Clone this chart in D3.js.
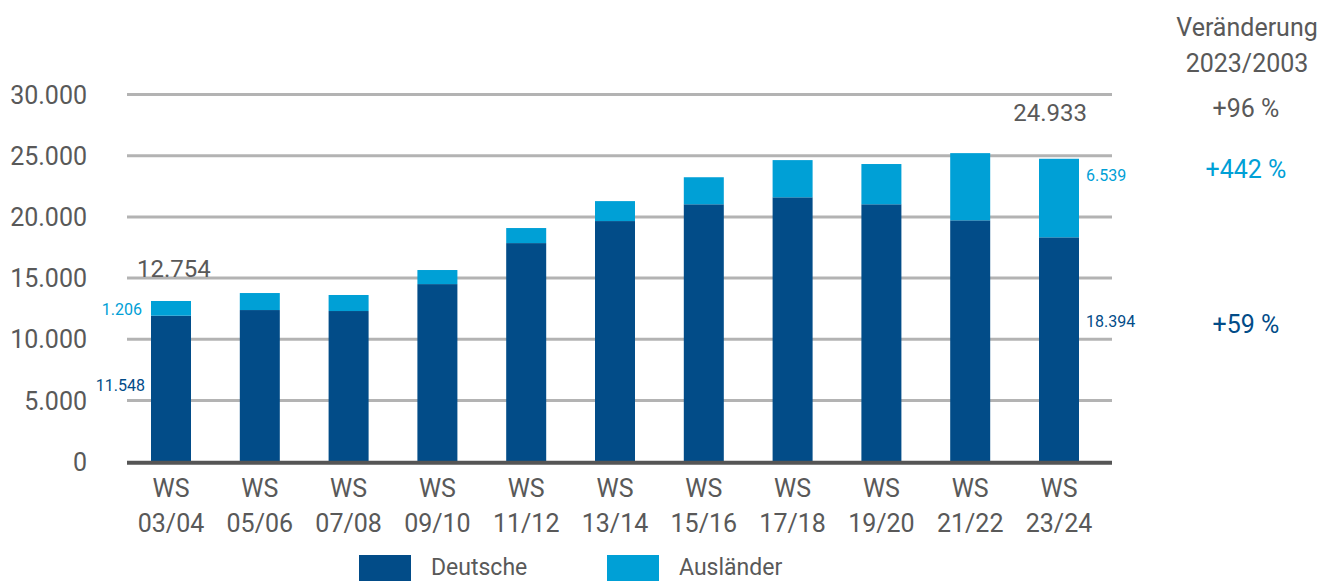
<!DOCTYPE html>
<html>
<head>
<meta charset="utf-8">
<script src="https://cdn.jsdelivr.net/npm/d3@7"></script>
<style>
  body { margin: 0; background: #fff; }
  svg { display: block; font-family: Roboto, "Open Sans", sans-serif; }
</style>
</head>
<body>
<div id="chart"></div>
<script>
// semesters
const semesters = ['03/04', '05/06', '07/08', '09/10', '11/12', '13/14', '15/16', '17/18', '19/20', '21/22', '23/24'];
// students
const deutsche   = [11930, 12390, 12310, 14510, 17860, 19660, 21030, 21600, 21030, 19720, 18330];
const auslaender = [ 1200,  1390,  1310,  1150,  1230,  1630,  2210,  3040,  3290,  5490,  6420];
const yTicks = [0, 5000, 10000, 15000, 20000, 25000, 30000];
const changes = [
    {text: '+96 %', key: 'total'},
    {text: '+442 %', key: 'ausl'},
    {text: '+59 %', key: 'deu'}
];

const colors = { deu: '#024c88', ausl: '#00a0d6', text: '#595959', grid: '#b3b3b3', axis: '#555555' };
const width = 1320, height = 581;

const svg = d3.select('#chart').append('svg')
    .attr('width', width)
    .attr('height', height);

const x = d3.scalePoint().domain(semesters).range([171, 1059]);
const y = d3.scaleLinear().domain([0, 30000]).range([461.7, 94.5]);
const barW = 40;

const fmt = d3.formatLocale({decimal: ',', thousands: '.', grouping: [3], currency: ['', '€']}).format(',');

// gridlines
svg.append('g')
    .selectAll('line')
    .data(yTicks.filter(d => d > 0))
    .join('line')
    .attr('x1', 127).attr('x2', 1112)
    .attr('y1', d => y(d)).attr('y2', d => y(d))
    .attr('stroke', colors.grid)
    .attr('stroke-width', 3);

// y tick labels
svg.append('g')
    .selectAll('text')
    .data(yTicks)
    .join('text')
    .attr('x', 87)
    .attr('y', d => y(d) + 9)
    .attr('text-anchor', 'end')
    .attr('font-size', 25)
    .attr('fill', colors.text)
    .text(d => fmt(d));

// stacked bars
const rows = semesters.map((s, i) => ({s, deu: deutsche[i], ausl: auslaender[i]}));
const bars = svg.append('g').selectAll('g').data(rows).join('g');
bars.append('rect')
    .attr('x', d => x(d.s) - barW / 2)
    .attr('width', barW)
    .attr('y', d => y(d.deu))
    .attr('height', d => y(0) - y(d.deu))
    .attr('fill', colors.deu);
bars.append('rect')
    .attr('x', d => x(d.s) - barW / 2)
    .attr('width', barW)
    .attr('y', d => y(d.deu + d.ausl))
    .attr('height', d => y(d.deu) - y(d.deu + d.ausl))
    .attr('fill', colors.ausl);

// baseline
svg.append('line')
    .attr('x1', 127).attr('x2', 1112)
    .attr('y1', y(0) + 1).attr('y2', y(0) + 1)
    .attr('stroke', colors.axis)
    .attr('stroke-width', 4);

// x labels
const xl = svg.append('g').selectAll('text').data(semesters).join('text')
    .attr('text-anchor', 'middle')
    .attr('font-size', 25)
    .attr('fill', colors.text);
xl.append('tspan').attr('x', d => x(d)).attr('y', 497).text('WS');
xl.append('tspan').attr('x', d => x(d)).attr('y', 532).text(d => d);

// value labels
const first = semesters[0], last = semesters[semesters.length - 1];
const labels = [
    {t: '12.754', x: x(first) - 34, y: 277, anchor: 'start', size: 24, c: colors.text},
    {t: '24.933', x: x(last) + 28, y: 121, anchor: 'end', size: 24, c: colors.text},
    {t: '1.206', x: x(first) - 29, y: 315, anchor: 'end', size: 16, c: colors.ausl},
    {t: '11.548', x: x(first) - 26, y: 391, anchor: 'end', size: 16, c: colors.deu},
    {t: '6.539', x: x(last) + 27, y: 181, anchor: 'start', size: 16, c: colors.ausl},
    {t: '18.394', x: x(last) + 27, y: 327, anchor: 'start', size: 16, c: colors.deu}
];
svg.append('g').selectAll('text').data(labels).join('text')
    .attr('x', d => d.x).attr('y', d => d.y)
    .attr('text-anchor', d => d.anchor)
    .attr('font-size', d => d.size)
    .attr('fill', d => d.c)
    .text(d => d.t);

// right column
const rc = svg.append('g').attr('font-size', 25).attr('text-anchor', 'middle');
rc.append('text').attr('x', 1247).attr('y', 36).attr('fill', colors.text).text('Veränderung');
rc.append('text').attr('x', 1247).attr('y', 72).attr('fill', colors.text).text('2023/2003');
const changeY = {total: 117, ausl: 178, deu: 333};
const changeC = {total: colors.text, ausl: colors.ausl, deu: colors.deu};
rc.selectAll('.chg').data(changes).join('text')
    .attr('class', 'chg')
    .attr('x', 1246)
    .attr('y', d => changeY[d.key])
    .attr('fill', d => changeC[d.key])
    .text(d => d.text);

// legend
const legend = [
    {name: 'Deutsche', c: colors.deu, x: 359},
    {name: 'Ausländer', c: colors.ausl, x: 607}
];
const lg = svg.append('g').selectAll('g').data(legend).join('g')
    .attr('transform', d => `translate(${d.x},555)`);
lg.append('rect').attr('width', 52).attr('height', 30).attr('fill', d => d.c);
lg.append('text')
    .attr('x', 72).attr('y', 20)
    .attr('font-size', 23)
    .attr('fill', colors.text)
    .text(d => d.name);
</script>
</body>
</html>
